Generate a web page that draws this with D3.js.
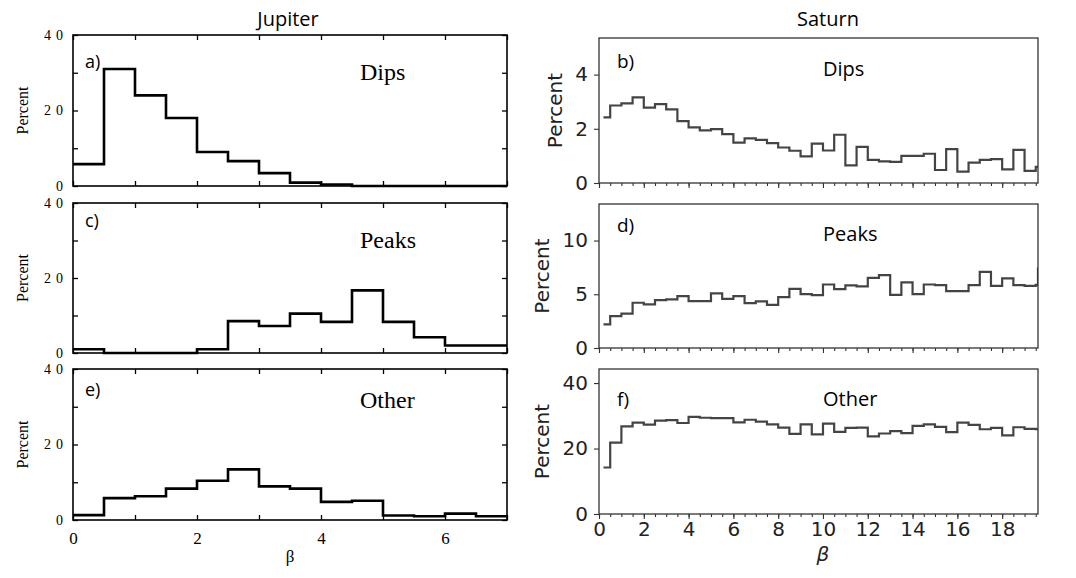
<!DOCTYPE html>
<html>
<head>
<meta charset="utf-8">
<script src="https://cdn.jsdelivr.net/npm/d3@7"></script>
<style>
body { margin: 0; background: #fff; }
</style>
</head>
<body>
<div id="chart"></div>
<script>
// ---- data ----
var jupEdges = [0, 0.5, 1, 1.5, 2, 2.5, 3, 3.5, 4, 4.5, 5, 5.5, 6, 6.5, 7];
var jupDips  = [5.8, 31, 24, 18, 9, 6.6, 3.4, 0.9, 0.4, 0, 0, 0, 0, 0];
var jupPeaks = [1, 0, 0, 0, 1, 8.5, 7.2, 10.5, 8.3, 16.7, 8.3, 4.2, 2, 2];
var jupOther = [1.3, 5.8, 6.3, 8.3, 10.4, 13.4, 8.9, 8.3, 4.8, 5.1, 1.2, 1, 1.7, 1];

var satEdges = [0.2, 0.5, 1, 1.5, 2, 2.5, 3, 3.5, 4, 4.5, 5, 5.5, 6, 6.5, 7, 7.5, 8, 8.5, 9, 9.5,
  10, 10.5, 11, 11.5, 12, 12.5, 13, 13.5, 14, 14.5, 15, 15.5, 16, 16.5, 17, 17.5, 18, 18.5, 19, 19.5, 19.6, 20];
var satDips  = [2.42, 2.86, 2.94, 3.16, 2.78, 2.91, 2.72, 2.28, 2.05, 1.94, 1.99, 1.8, 1.49, 1.65, 1.59, 1.47, 1.31, 1.19, 0.98, 1.45,
  1.2, 1.78, 0.65, 1.33, 0.85, 0.8, 0.78, 1.0, 1.0, 1.08, 0.48, 1.25, 0.42, 0.75, 0.85, 0.88, 0.5, 1.22, 0.45, 0.6, 0.6];
var satPeaks = [2.2, 2.97, 3.19, 4.21, 4.06, 4.46, 4.52, 4.83, 4.37, 4.37, 5.08, 4.58, 4.83, 4.18, 4.33, 4.02, 4.74, 5.51, 5.02, 4.92,
  5.91, 5.48, 5.82, 5.73, 6.53, 6.78, 4.95, 6.1, 5.02, 5.91, 5.85, 5.29, 5.29, 5.85, 7.09, 5.79, 6.47, 5.85, 5.79, 5.88, 7.4];
var satOther = [14.2, 21.8, 26.8, 27.9, 27.3, 28.5, 28.7, 27.8, 29.7, 29.4, 29.3, 29.3, 28.0, 28.8, 28.2, 27.4, 26.4, 24.5, 27.4, 24.3,
  27.6, 25.1, 26.3, 26.4, 23.7, 24.6, 25.3, 24.7, 26.9, 27.4, 26.6, 25.0, 27.9, 27.2, 25.9, 26.3, 24.0, 26.5, 26.0, 25.9, 25.9];

var jupXTicks = [0, 2, 4, 6];
var jupYTicks = [0, 20, 40];
var satXTicks = [0, 2, 4, 6, 8, 10, 12, 14, 16, 18];
var satYTicks = [[0, 2, 4], [0, 5, 10], [0, 20, 40]];
var satYMax = [5.35, 13.4, 44.3];
var kinds = ["Dips", "Peaks", "Other"];

var W = 1076, H = 578;
var fmt = d3.format("d");

var svg = d3.select("#chart").append("svg")
  .attr("width", W)
  .attr("height", H);

// column titles
svg.append("text").attr("x", 288).attr("y", 26)
  .attr("text-anchor", "middle")
  .style("font-family", "Open Sans, sans-serif").style("font-size", "20px")
  .text("Jupiter");
svg.append("text").attr("x", 828).attr("y", 26)
  .attr("text-anchor", "middle")
  .style("font-family", "Open Sans, sans-serif").style("font-size", "20px")
  .text("Saturn");

function stepPoints(edges, vals) {
  var pts = vals.map(function(v, i) { return [edges[i], v]; });
  pts.push([edges[vals.length], vals[vals.length - 1]]);
  return pts;
}

// ---------- Jupiter (left column) ----------
var jupPanels = [
  {vals: jupDips,  top: 35,  bot: 186, tag: "a)", tagY: 68,  kindY: 80},
  {vals: jupPeaks, top: 203, bot: 353, tag: "c)", tagY: 227, kindY: 248},
  {vals: jupOther, top: 369, bot: 520, tag: "e)", tagY: 396, kindY: 408}
];
var jx = d3.scaleLinear().domain([0, 7]).range([73, 507]);

jupPanels.forEach(function(p, k) {
  var y = d3.scaleLinear().domain([0, 40]).range([p.bot, p.top]);
  var g = svg.append("g");

  var tickStyle = function(sel) {
    sel.select(".domain").remove();
    sel.selectAll("line").attr("stroke", "#000").attr("stroke-width", 1.3);
  };

  g.append("g").attr("transform", "translate(0," + p.bot + ")")
    .call(d3.axisBottom(jx).ticks(7).tickSize(-5).tickFormat(""))
    .call(tickStyle);
  g.append("g").attr("transform", "translate(0," + p.top + ")")
    .call(d3.axisTop(jx).ticks(7).tickSize(-5).tickFormat(""))
    .call(tickStyle);
  g.append("g").attr("transform", "translate(" + jx(7) + ",0)")
    .call(d3.axisRight(y).tickValues([0, 10, 20, 30, 40]).tickSize(-5).tickFormat(""))
    .call(tickStyle);
  var ya = g.append("g").attr("transform", "translate(" + jx(0) + ",0)")
    .call(d3.axisLeft(y).tickValues([0, 10, 20, 30, 40]).tickSize(-5)
      .tickFormat(function(d) { return jupYTicks.indexOf(d) >= 0 ? fmt(d) : ""; }).tickPadding(5))
    .call(tickStyle);
  ya.selectAll("text")
    .style("font-family", "Liberation Serif, serif").style("font-size", "14px")
    .style("letter-spacing", "5px").attr("fill", "#000");

  if (k === 2) {
    var xa = g.append("g").attr("transform", "translate(0," + p.bot + ")")
      .call(d3.axisBottom(jx).tickValues(jupXTicks).tickFormat(fmt).tickSize(0).tickPadding(12));
    xa.select(".domain").remove();
    xa.selectAll("text").style("font-family", "Liberation Serif, serif")
      .style("font-size", "17px").attr("fill", "#000");
    svg.append("text").attr("x", jx(3.5)).attr("y", 562)
      .attr("text-anchor", "middle")
      .style("font-family", "Liberation Serif, serif").style("font-size", "17px")
      .text("β");
  }

  g.append("rect").attr("x", jx(0)).attr("y", p.top)
    .attr("width", jx(7) - jx(0)).attr("height", p.bot - p.top)
    .attr("fill", "none").attr("stroke", "#000").attr("stroke-width", 1.6);

  var line = d3.line()
    .x(function(d) { return jx(d[0]); })
    .y(function(d) { return y(d[1]); })
    .curve(d3.curveStepAfter);
  g.append("path").datum(stepPoints(jupEdges, p.vals))
    .attr("d", line).attr("fill", "none")
    .attr("stroke", "#000").attr("stroke-width", 2.6);

  svg.append("text")
    .attr("transform", "translate(28," + ((p.top + p.bot) / 2) + ") rotate(-90)")
    .attr("text-anchor", "middle")
    .style("font-family", "Liberation Serif, serif").style("font-size", "16px")
    .text("Percent");
  svg.append("text").attr("x", 85).attr("y", p.tagY)
    .style("font-family", "Open Sans, sans-serif").style("font-size", "18px")
    .text(p.tag);
  svg.append("text").attr("x", 360).attr("y", p.kindY)
    .style("font-family", "Liberation Serif, serif").style("font-size", "24px")
    .text(kinds[k]);
});

// ---------- Saturn (right column) ----------
var satPanels = [
  {vals: satDips,  top: 38,  bot: 183, tag: "b)", tagY: 68,  kindY: 76,  labX: 562},
  {vals: satPeaks, top: 204, bot: 348, tag: "d)", tagY: 232, kindY: 241, labX: 549},
  {vals: satOther, top: 369, bot: 514, tag: "f)", tagY: 406, kindY: 406, labX: 549}
];
var sx = d3.scaleLinear().domain([0, 19.6]).range([599, 1038]);
var axisCol = "#333";

satPanels.forEach(function(p, k) {
  var y = d3.scaleLinear().domain([0, satYMax[k]]).range([p.bot, p.top]);
  var g = svg.append("g");

  var clipId = "clip" + k;
  g.append("clipPath").attr("id", clipId).append("rect")
    .attr("x", sx(0)).attr("y", p.top)
    .attr("width", sx(19.6) - sx(0)).attr("height", p.bot - p.top);

  var line = d3.line()
    .x(function(d) { return sx(d[0]); })
    .y(function(d) { return y(d[1]); })
    .curve(d3.curveStepAfter);
  g.append("path").datum(stepPoints(satEdges, p.vals))
    .attr("clip-path", "url(#" + clipId + ")")
    .attr("d", line).attr("fill", "none")
    .attr("stroke", "#444").attr("stroke-width", 2.2);

  var style = function(sel) {
    sel.select(".domain").remove();
    sel.selectAll("line").attr("stroke", axisCol).attr("stroke-width", 1.1);
    sel.selectAll("text").attr("fill", "#222")
      .style("font-family", "DejaVu Sans, sans-serif").style("font-size", "20px");
  };

  // minor x ticks
  g.append("g").attr("transform", "translate(0," + p.bot + ")")
    .call(d3.axisBottom(sx).tickValues(d3.range(0, 19.6, 0.5)).tickSize(3).tickFormat(""))
    .call(style);
  // major x ticks
  g.append("g").attr("transform", "translate(0," + p.bot + ")")
    .call(d3.axisBottom(sx).tickValues(satXTicks).tickSize(5)
      .tickFormat(k === 2 ? fmt : "").tickPadding(3))
    .call(style);
  g.append("g").attr("transform", "translate(" + sx(0) + ",0)")
    .call(d3.axisLeft(y).tickValues(satYTicks[k]).tickFormat(fmt).tickSize(5).tickPadding(6))
    .call(style);

  g.append("rect").attr("x", sx(0)).attr("y", p.top)
    .attr("width", sx(19.6) - sx(0)).attr("height", p.bot - p.top)
    .attr("fill", "none").attr("stroke", axisCol).attr("stroke-width", 1.3);

  svg.append("text")
    .attr("transform", "translate(" + p.labX + "," + ((p.top + p.bot) / 2) + ") rotate(-90)")
    .attr("text-anchor", "middle").attr("fill", "#222")
    .style("font-family", "DejaVu Sans, sans-serif").style("font-size", "20px")
    .text("Percent");
  svg.append("text").attr("x", 617).attr("y", p.tagY)
    .style("font-family", "Open Sans, sans-serif").style("font-size", "19px")
    .text(p.tag);
  svg.append("text").attr("x", 823).attr("y", p.kindY)
    .style("font-family", "Open Sans, sans-serif").style("font-size", "20px")
    .text(kinds[k]);
});

svg.append("text").attr("x", sx(10)).attr("y", 561)
  .attr("text-anchor", "middle").attr("fill", "#222")
  .style("font-family", "DejaVu Sans, sans-serif").style("font-size", "20px")
  .style("font-style", "italic")
  .text("β");
</script>
</body>
</html>
